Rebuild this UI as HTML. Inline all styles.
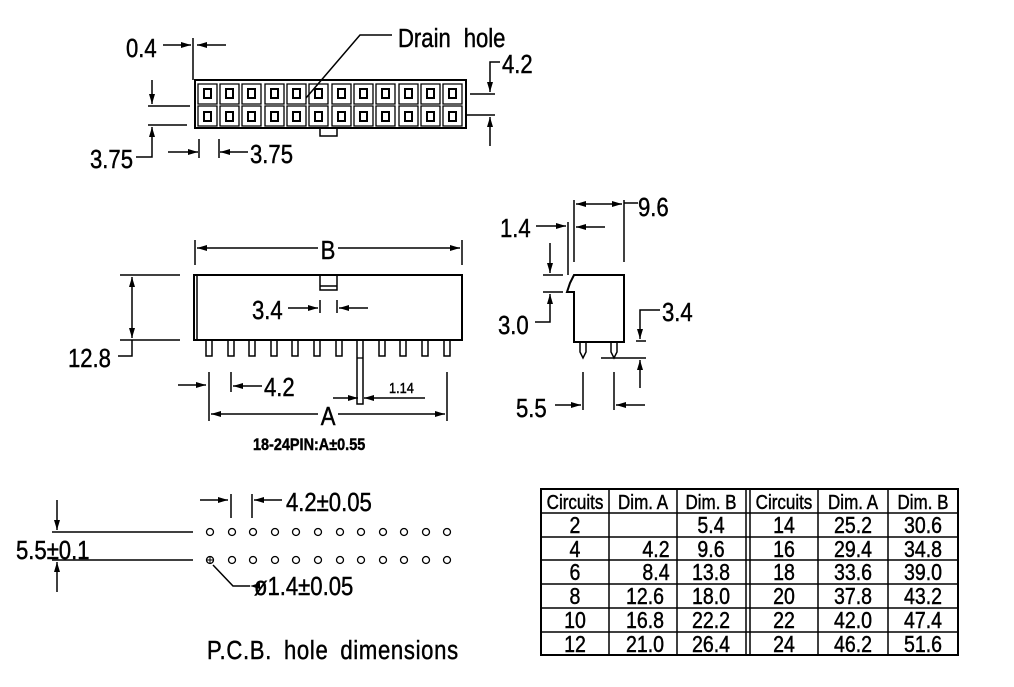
<!DOCTYPE html>
<html><head><meta charset="utf-8"><style>
html,body{margin:0;padding:0;background:#fff;}
svg{display:block;}
text{font-family:"Liberation Sans",sans-serif;fill:#000;stroke:#000;stroke-width:0.45;transform-box:fill-box;transform-origin:left center;transform:scaleX(.85);}
.m text{transform-origin:center;}
</style></head><body>
<svg width="1014" height="687" viewBox="0 0 1014 687" xmlns="http://www.w3.org/2000/svg">
<defs>
<marker id="a" viewBox="0 0 10 6" refX="10" refY="3" markerWidth="10" markerHeight="6" markerUnits="userSpaceOnUse" orient="auto"><path d="M0,0L10,3L0,6z" fill="#000"/></marker>
</defs>
<g stroke="#000" stroke-width="1.5" fill="none">
<rect x="195" y="80" width="271" height="48" stroke-width="2"/>
<rect x="320" y="128" width="17" height="8"/>
<line x1="163" y1="45" x2="191" y2="45" marker-end="url(#a)"/>
<line x1="226" y1="45" x2="197" y2="45" marker-end="url(#a)"/>
<line x1="193" y1="38" x2="193" y2="80"/>
<line x1="148" y1="106" x2="190" y2="106"/>
<line x1="148" y1="125" x2="187" y2="125"/>
<line x1="152" y1="80" x2="152" y2="104" marker-end="url(#a)"/>
<polyline points="136,157 152,157 152,127" marker-end="url(#a)"/>
<line x1="168" y1="152" x2="198" y2="152" marker-end="url(#a)"/>
<line x1="199" y1="139" x2="199" y2="158"/>
<line x1="219" y1="139" x2="219" y2="158"/>
<line x1="248" y1="152" x2="220" y2="152" marker-end="url(#a)"/>
<line x1="470" y1="94" x2="495" y2="94"/>
<line x1="466" y1="115" x2="495" y2="115"/>
<polyline points="500,62 490,62 490,92" marker-end="url(#a)"/>
<line x1="490" y1="146" x2="490" y2="117" marker-end="url(#a)"/>
<polyline points="306,98 360,35 392,35"/>

<line x1="195" y1="240" x2="195" y2="265"/>
<line x1="462" y1="240" x2="462" y2="265"/>
<line x1="318" y1="248" x2="197" y2="248" marker-end="url(#a)"/>
<line x1="338" y1="248" x2="460" y2="248" marker-end="url(#a)"/>
<rect x="194" y="275" width="268" height="65" stroke-width="2"/>
<line x1="197" y1="275" x2="197" y2="340"/>
<rect x="320" y="275" width="17" height="15"/>
<line x1="320" y1="286" x2="337" y2="286"/>
<line x1="120" y1="275" x2="180" y2="275"/>
<line x1="120" y1="340" x2="180" y2="340"/>
<line x1="132" y1="308" x2="132" y2="277" marker-end="url(#a)"/>
<line x1="132" y1="308" x2="132" y2="338" marker-end="url(#a)"/>
<polyline points="132,340 132,356 118,356"/>
<line x1="288" y1="308" x2="318" y2="308" marker-end="url(#a)"/>
<line x1="320" y1="300" x2="320" y2="313"/>
<line x1="337" y1="300" x2="337" y2="313"/>
<line x1="368" y1="308" x2="339" y2="308" marker-end="url(#a)"/>
<line x1="178" y1="385" x2="206" y2="385" marker-end="url(#a)"/>
<line x1="209" y1="372" x2="209" y2="421"/>
<line x1="231" y1="372" x2="231" y2="392"/>
<line x1="262" y1="386" x2="233" y2="386" marker-end="url(#a)"/>
<line x1="333" y1="398" x2="358" y2="398" marker-end="url(#a)"/>
<line x1="425" y1="398" x2="364" y2="398" marker-end="url(#a)"/>
<line x1="447" y1="372" x2="447" y2="421"/>
<line x1="318" y1="414" x2="211" y2="414" marker-end="url(#a)"/>
<line x1="338" y1="414" x2="445" y2="414" marker-end="url(#a)"/>

<path d="M574,275 L624,275 L624,342 L574,342 L574,292 L567,292 L570,283 Z" stroke-width="2"/>
<line x1="574" y1="275" x2="570" y2="283"/>
<path d="M580,342 L580,352 L583,358 L586,352 L586,342"/>
<path d="M611,342 L611,352 L614,358 L617,352 L617,342"/>
<line x1="574" y1="200" x2="574" y2="262"/>
<line x1="624" y1="200" x2="624" y2="262"/>
<line x1="599" y1="204" x2="576" y2="204" marker-end="url(#a)"/>
<line x1="599" y1="204" x2="622" y2="204" marker-end="url(#a)"/>
<line x1="624" y1="203" x2="638" y2="203"/>
<line x1="568" y1="222" x2="568" y2="275"/>
<line x1="536" y1="226" x2="566" y2="226" marker-end="url(#a)"/>
<line x1="605" y1="227" x2="576" y2="227" marker-end="url(#a)"/>
<line x1="543" y1="275" x2="563" y2="275"/>
<line x1="543" y1="292" x2="563" y2="292"/>
<line x1="550" y1="243" x2="550" y2="273" marker-end="url(#a)"/>
<polyline points="535,322 550,322 550,294" marker-end="url(#a)"/>
<line x1="636" y1="341" x2="646" y2="341"/>
<line x1="601" y1="358" x2="646" y2="358"/>
<polyline points="660,310 640,310 640,339" marker-end="url(#a)"/>
<line x1="640" y1="388" x2="640" y2="360" marker-end="url(#a)"/>
<line x1="583" y1="372" x2="583" y2="410"/>
<line x1="614" y1="372" x2="614" y2="410"/>
<line x1="555" y1="405" x2="581" y2="405" marker-end="url(#a)"/>
<line x1="645" y1="405" x2="616" y2="405" marker-end="url(#a)"/>

<line x1="52" y1="532" x2="193" y2="532"/>
<line x1="52" y1="560" x2="193" y2="560"/>
<line x1="57" y1="500" x2="57" y2="530" marker-end="url(#a)"/>
<line x1="57" y1="592" x2="57" y2="562" marker-end="url(#a)"/>
<line x1="200" y1="500" x2="228" y2="500" marker-end="url(#a)"/>
<line x1="231" y1="494" x2="231" y2="518"/>
<line x1="252" y1="494" x2="252" y2="518"/>
<line x1="282" y1="500" x2="254" y2="500" marker-end="url(#a)"/>
<polyline points="250,586 233,586 213,565" marker-start="url(#a)"/>
<line x1="206" y1="560" x2="214" y2="560" stroke-width="1"/>
<line x1="210" y1="556" x2="210" y2="564" stroke-width="1"/>

<rect x="541" y="489" width="417" height="166" stroke-width="2"/>
<line x1="541" y1="513" x2="958" y2="513"/>
<line x1="541" y1="537" x2="958" y2="537"/>
<line x1="541" y1="560" x2="958" y2="560"/>
<line x1="541" y1="584" x2="958" y2="584"/>
<line x1="541" y1="608" x2="958" y2="608"/>
<line x1="541" y1="632" x2="958" y2="632"/>
<line x1="609" y1="489" x2="609" y2="655"/>
<line x1="677" y1="489" x2="677" y2="655"/>
<line x1="746" y1="489" x2="746" y2="655"/>
<line x1="750" y1="489" x2="750" y2="655"/>
<line x1="818" y1="489" x2="818" y2="655"/>
<line x1="888" y1="489" x2="888" y2="655"/>
</g>

<g font-size="26">
<text x="398" y="47" word-spacing="8">Drain hole</text>
<text x="126" y="57">0.4</text>
<text x="502" y="73">4.2</text>
<text x="90" y="168">3.75</text>
<text x="250" y="163">3.75</text>
<text x="252" y="319">3.4</text>
<text x="68" y="367">12.8</text>
<text x="264" y="396">4.2</text>
<text x="638" y="216">9.6</text>
<text x="500" y="237">1.4</text>
<text x="498" y="334">3.0</text>
<text x="662" y="321">3.4</text>
<text x="516" y="417">5.5</text>
<text x="16" y="559">5.5±0.1</text>
<text x="286" y="511">4.2±0.05</text>
<text x="254" y="595">ø1.4±0.05</text>
<text x="207" y="659" letter-spacing="0.8" word-spacing="6">P.C.B. hole dimensions</text>
</g>
<g font-size="26" class="m" text-anchor="middle">
<text x="328" y="259">B</text>
<text x="328" y="425">A</text>
</g>
<text x="389" y="393" font-size="15">1.14</text>
<text x="253" y="450" font-size="17" font-weight="bold">18-24PIN:A±0.55</text>
<g font-size="20" class="m" text-anchor="middle">
<text x="575" y="509">Circuits</text><text x="643" y="509">Dim. A</text><text x="711" y="509">Dim. B</text>
<text x="784" y="509">Circuits</text><text x="853" y="509">Dim. A</text><text x="923" y="509">Dim. B</text>
</g>
<g font-size="23" class="m" text-anchor="middle">
<text x="575" y="533">2</text><text x="711" y="533">5.4</text><text x="784" y="533">14</text><text x="853" y="533">25.2</text><text x="923" y="533">30.6</text>
<text x="575" y="557">4</text><text x="656" y="557">4.2</text><text x="711" y="557">9.6</text><text x="784" y="557">16</text><text x="853" y="557">29.4</text><text x="923" y="557">34.8</text>
<text x="575" y="580">6</text><text x="656" y="580">8.4</text><text x="711" y="580">13.8</text><text x="784" y="580">18</text><text x="853" y="580">33.6</text><text x="923" y="580">39.0</text>
<text x="575" y="604">8</text><text x="645" y="604">12.6</text><text x="711" y="604">18.0</text><text x="784" y="604">20</text><text x="853" y="604">37.8</text><text x="923" y="604">43.2</text>
<text x="575" y="628">10</text><text x="645" y="628">16.8</text><text x="711" y="628">22.2</text><text x="784" y="628">22</text><text x="853" y="628">42.0</text><text x="923" y="628">47.4</text>
<text x="575" y="652">12</text><text x="645" y="652">21.0</text><text x="711" y="652">26.4</text><text x="784" y="652">24</text><text x="853" y="652">46.2</text><text x="923" y="652">51.6</text>
</g>

<g stroke="#000" fill="none" stroke-width="1.3">
<path d="M198,84h19v20h-19zM220,84h19v20h-19zM242,84h19v20h-19zM265,84h19v20h-19zM287,84h19v20h-19zM309,84h19v20h-19zM332,84h19v20h-19zM354,84h19v20h-19zM376,84h19v20h-19zM399,84h19v20h-19zM421,84h19v20h-19zM443,84h19v20h-19z"/>
<path d="M198,106h19v20h-19zM220,106h19v20h-19zM242,106h19v20h-19zM265,106h19v20h-19zM287,106h19v20h-19zM309,106h19v20h-19zM332,106h19v20h-19zM354,106h19v20h-19zM376,106h19v20h-19zM399,106h19v20h-19zM421,106h19v20h-19zM443,106h19v20h-19z"/>
<path stroke-width="2" d="M204,89h7v9h-7zM226,89h7v9h-7zM248,89h7v9h-7zM271,89h7v9h-7zM293,89h7v9h-7zM315,89h7v9h-7zM338,89h7v9h-7zM360,89h7v9h-7zM382,89h7v9h-7zM405,89h7v9h-7zM427,89h7v9h-7zM449,89h7v9h-7z"/>
<path stroke-width="2" d="M204,112h7v9h-7zM226,112h7v9h-7zM248,112h7v9h-7zM271,112h7v9h-7zM293,112h7v9h-7zM315,112h7v9h-7zM338,112h7v9h-7zM360,112h7v9h-7zM382,112h7v9h-7zM405,112h7v9h-7zM427,112h7v9h-7zM449,112h7v9h-7z"/>
<path stroke-width="1.5" d="M206,340v16h6v-16M228,340v16h6v-16M249,340v16h6v-16M271,340v16h6v-16M292,340v16h6v-16M314,340v16h6v-16M336,340v16h6v-16M357,340v64h6v-64M379,340v16h6v-16M400,340v16h6v-16M422,340v16h6v-16M444,340v16h6v-16"/>
<line x1="357" y1="358" x2="363" y2="358"/>
<circle cx="210" cy="532" r="3.5"/><circle cx="232" cy="532" r="3.5"/><circle cx="253" cy="532" r="3.5"/><circle cx="275" cy="532" r="3.5"/><circle cx="296" cy="532" r="3.5"/><circle cx="318" cy="532" r="3.5"/><circle cx="340" cy="532" r="3.5"/><circle cx="361" cy="532" r="3.5"/><circle cx="383" cy="532" r="3.5"/><circle cx="404" cy="532" r="3.5"/><circle cx="426" cy="532" r="3.5"/><circle cx="447" cy="532" r="3.5"/>
<circle cx="210" cy="560" r="3.5"/><circle cx="232" cy="560" r="3.5"/><circle cx="253" cy="560" r="3.5"/><circle cx="275" cy="560" r="3.5"/><circle cx="296" cy="560" r="3.5"/><circle cx="318" cy="560" r="3.5"/><circle cx="340" cy="560" r="3.5"/><circle cx="361" cy="560" r="3.5"/><circle cx="383" cy="560" r="3.5"/><circle cx="404" cy="560" r="3.5"/><circle cx="426" cy="560" r="3.5"/><circle cx="447" cy="560" r="3.5"/>
</g>
</svg>
</body></html>
